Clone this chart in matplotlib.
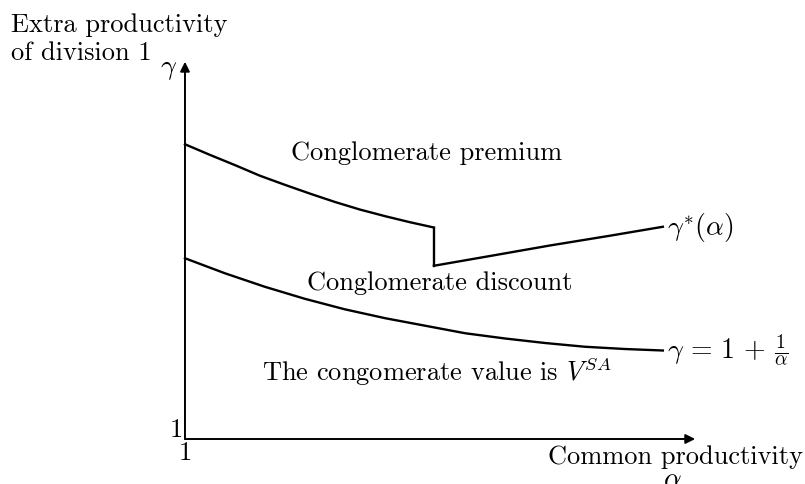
import numpy as np
import matplotlib
matplotlib.use("Agg")
import matplotlib.pyplot as plt

plt.rcParams['font.family'] = ['cmr10', 'DejaVu Serif']
plt.rcParams['mathtext.fontset'] = 'cm'
plt.rcParams['axes.unicode_minus'] = False

# gamma*(alpha): left branch, jump, right branch
premium_alpha = [1.0, 1.26, 1.53, 1.79, 2.05, 2.32, 2.58, 2.84, 3.11, 3.37, 3.62]
premium_gamma = [4.93, 4.79, 4.65, 4.51, 4.39, 4.27, 4.16, 4.06, 3.97, 3.89, 3.82]
jump_alpha = [3.62, 3.62]
jump_gamma = [3.82, 3.31]
right_alpha = [3.62, 4.21, 4.84, 5.47, 6.03]
right_gamma = [3.31, 3.44, 3.58, 3.71, 3.83]

# gamma = 1 + 1/alpha (schematic)
lower_alpha = [1.0, 1.42, 1.84, 2.26, 2.68, 3.11, 3.53, 3.95, 4.37, 4.79, 5.21, 5.63, 6.03]
lower_gamma = [3.41, 3.21, 3.03, 2.87, 2.73, 2.61, 2.51, 2.41, 2.34, 2.28, 2.23, 2.20, 2.18]

fs = 19
fig = plt.figure(figsize=(8.05, 4.85), dpi=100)
ax = fig.add_axes([0, 0, 1, 1])
ax.set_xlim(-0.947, 7.526)
ax.set_ylim(0.4, 6.867)
ax.axis('off')

# axes with arrows
arrow = dict(arrowstyle='-|>', lw=1.4, color='black', mutation_scale=14, shrinkA=0, shrinkB=0)
ax.annotate('', xy=(6.37, 1.0), xytext=(1.0, 1.0), arrowprops=arrow)
ax.annotate('', xy=(1.0, 6.03), xytext=(1.0, 1.0), arrowprops=arrow)

lw = 1.7
ax.plot(premium_alpha, premium_gamma, color='black', lw=lw)
ax.plot(jump_alpha, jump_gamma, color='black', lw=lw)
ax.plot(right_alpha, right_gamma, color='black', lw=lw)
ax.plot(lower_alpha, lower_gamma, color='black', lw=lw)

# labels
ax.text(-0.83, 6.53, 'Extra productivity', fontsize=fs, ha='left', va='center')
ax.text(-0.83, 6.16, 'of division 1', fontsize=fs, ha='left', va='center')
ax.text(0.83, 5.95, r'$\gamma$', fontsize=fs + 1, ha='center', va='center')
ax.text(0.98, 1.13, '1', fontsize=fs, ha='right', va='center')
ax.text(1.0, 0.83, '1', fontsize=fs, ha='center', va='center')
ax.text(7.50, 0.77, 'Common productivity', fontsize=fs, ha='right', va='center')
ax.text(6.13, 0.47, r'$\alpha$', fontsize=fs + 1, ha='center', va='center')

ax.text(3.54, 4.83, 'Conglomerate premium', fontsize=fs, ha='center', va='center')
ax.text(3.68, 3.09, 'Conglomerate discount', fontsize=fs, ha='center', va='center')
ax.text(1.81, 1.92, r'The congomerate value is $V^{SA}$', fontsize=fs, ha='left', va='center')
ax.text(6.07, 3.83, r'$\gamma^{*}(\alpha)$', fontsize=fs + 1, ha='left', va='center')
ax.text(6.07, 2.19, r'$\gamma\,=\,1\,+\,\frac{1}{\alpha}$', fontsize=fs + 1, ha='left', va='center')

fig.savefig('out.png', dpi=100)
